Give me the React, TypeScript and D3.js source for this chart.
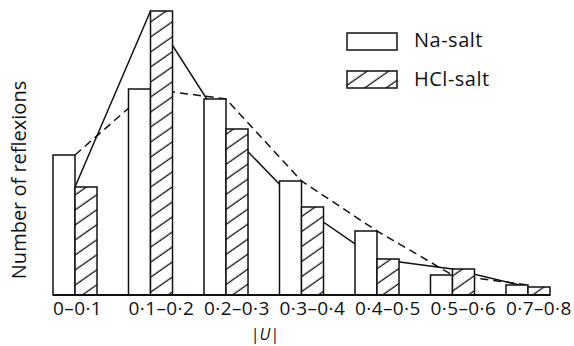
import { useEffect, useRef } from 'react';
import * as d3 from 'd3';

const ranges = ['0–0·1', '0·1–0·2', '0·2–0·3', '0·3–0·4', '0·4–0·5', '0·5–0·6', '0·7–0·8'];
const naSalt = [70, 103, 98, 57, 32, 10, 5];
const hclSalt = [54, 142, 83, 44, 18, 13, 4];
const seriesNames = ['Na-salt', 'HCl-salt'];

const FONT = '"Open Sans", "Liberation Sans", sans-serif';

export default function App() {
  const svgRef = useRef<SVGSVGElement>(null);
  const width = 574;
  const height = 346;

  useEffect(() => {
    if (!svgRef.current) return;
    const svg = d3.select(svgRef.current);
    svg.selectAll('*').remove();

    const x = d3
      .scaleBand()
      .domain(ranges)
      .range([53, 550])
      .paddingInner(0.417)
      .paddingOuter(0);
    const y = d3.scaleLinear().domain([0, 142]).range([295, 11]);
    const bw = x.bandwidth() / 2;

    const defs = svg.append('defs');
    const pat = defs
      .append('pattern')
      .attr('id', 'hatch')
      .attr('patternUnits', 'userSpaceOnUse')
      .attr('width', 10)
      .attr('height', 12.3)
      .attr('patternTransform', 'rotate(-35)');
    pat.append('rect').attr('width', 10).attr('height', 12.3).attr('fill', '#fff');
    pat
      .append('line')
      .attr('x1', 0)
      .attr('x2', 10)
      .attr('y1', 6)
      .attr('y2', 6)
      .attr('stroke', '#111')
      .attr('stroke-width', 1.3);

    const mid = (c: string) => (x(c) ?? 0) + bw;

    // frequency polygons, drawn first so the bars hide them
    const line = d3.line<number>().x((_, i) => mid(ranges[i])).y((d) => y(d));
    svg
      .append('path')
      .attr('d', line(naSalt))
      .attr('fill', 'none')
      .attr('stroke', '#111')
      .attr('stroke-width', 1.5)
      .attr('stroke-dasharray', '8,5');
    svg
      .append('path')
      .attr('d', line(hclSalt))
      .attr('fill', 'none')
      .attr('stroke', '#111')
      .attr('stroke-width', 1.5);

    const g = svg.append('g');
    g.selectAll('.na')
      .data(naSalt)
      .join('rect')
      .attr('x', (_, i) => x(ranges[i]) ?? 0)
      .attr('y', (d) => y(d))
      .attr('width', bw)
      .attr('height', (d) => y(0) - y(d))
      .attr('fill', '#fff')
      .attr('stroke', '#111')
      .attr('stroke-width', 1.5);
    g.selectAll('.hcl')
      .data(hclSalt)
      .join('rect')
      .attr('x', (_, i) => mid(ranges[i]))
      .attr('y', (d) => y(d))
      .attr('width', bw)
      .attr('height', (d) => y(0) - y(d))
      .attr('fill', 'url(#hatch)')
      .attr('stroke', '#111')
      .attr('stroke-width', 1.5);

    svg
      .append('line')
      .attr('x1', 53)
      .attr('x2', 550)
      .attr('y1', y(0))
      .attr('y2', y(0))
      .attr('stroke', '#111')
      .attr('stroke-width', 1.8);

    svg
      .selectAll('.tick')
      .data(ranges)
      .join('text')
      .attr('x', (d) => x(d) ?? 0)
      .attr('y', 315)
      .style('font-family', FONT)
      .style('font-size', '19px')
      .style('letter-spacing', '0.4px')
      .attr('fill', '#111')
      .text((d) => d);

    svg
      .append('text')
      .attr('x', 265)
      .attr('y', 340)
      .attr('text-anchor', 'middle')
      .style('font-family', FONT)
      .style('font-size', '16px')
      .attr('fill', '#111')
      .html('|<tspan font-style="italic">U</tspan>|');

    svg
      .append('text')
      .attr('transform', 'translate(26,180) rotate(-90)')
      .attr('text-anchor', 'middle')
      .style('font-family', FONT)
      .style('font-size', '20px')
      .attr('fill', '#111')
      .text('Number of reflexions');

    // legend
    const lg = svg.append('g').attr('transform', 'translate(347,33)');
    seriesNames.forEach((name, i) => {
      lg.append('rect')
        .attr('x', 0)
        .attr('y', i * 38)
        .attr('width', 50)
        .attr('height', 17)
        .attr('fill', i === 0 ? '#fff' : 'url(#hatch)')
        .attr('stroke', '#111')
        .attr('stroke-width', 1.5);
      lg.append('text')
        .attr('x', 67)
        .attr('y', i * 39 + 14)
        .style('font-family', FONT)
        .style('font-size', '20px')
        .style('letter-spacing', '0.5px')
        .attr('fill', '#111')
        .text(name);
    });
  }, []);

  return (
    <svg
      ref={svgRef}
      width={width}
      height={height}
      style={{ position: 'absolute', left: 0, top: 0, background: '#fff' }}
    />
  );
}
